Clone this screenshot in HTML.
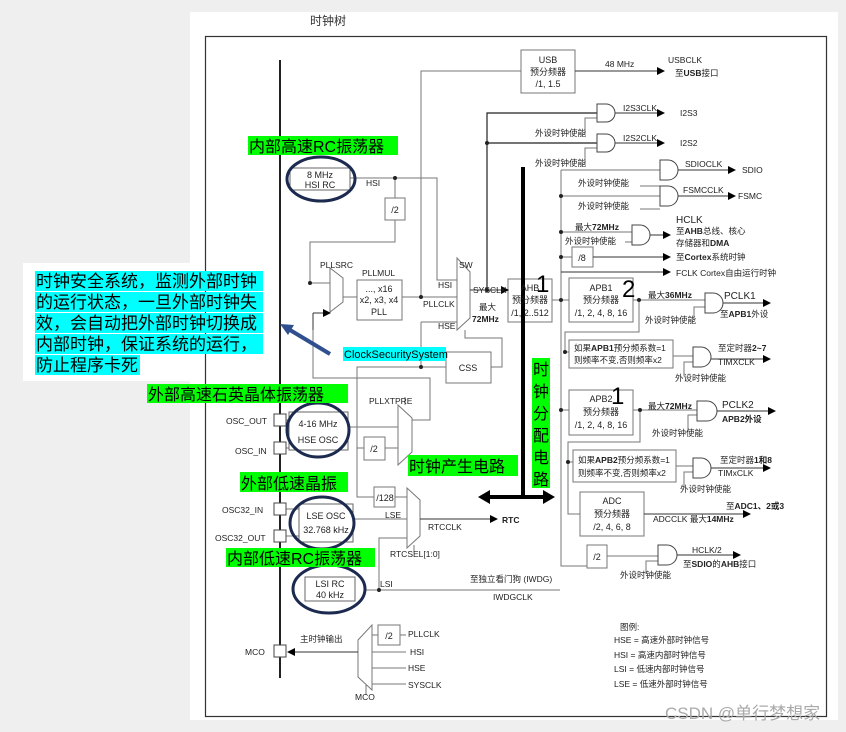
<!DOCTYPE html>
<html><head><meta charset="utf-8"><style>
html,body{margin:0;padding:0;background:#efefef;}
svg{display:block;}
text{font-family:"Liberation Sans","Noto Sans CJK SC",sans-serif;}
</style></head><body>
<svg width="846" height="732" viewBox="0 0 846 732" xmlns="http://www.w3.org/2000/svg">
<defs>
<marker id="a" markerWidth="8" markerHeight="8" refX="7" refY="4" orient="auto" markerUnits="userSpaceOnUse"><path d="M0,0 L8,4 L0,8z" fill="#000"/></marker>
</defs>
<rect x="190" y="12" width="648" height="708" fill="#fff"/>
<rect x="23" y="263" width="247" height="118" fill="#fff"/>
<text x="310" y="25" font-size="12" fill="#333">时钟树</text>
<rect x="205.5" y="36.5" width="621" height="680" fill="none" stroke="#333" stroke-width="1.2"/>
<line x1="280" y1="60" x2="280" y2="678" stroke="#222" stroke-width="2"/>

<g stroke="#777" stroke-width="1" fill="none">
<!-- HSI -->
<polyline points="350,178 437,178 437,280 457,280"/>
<polyline points="395,178 395,198"/>
<rect x="385" y="198" width="20" height="22" fill="#fff"/>
<polyline points="395,220 395,242 310,242 310,283 330,283"/>
<polygon points="330,268 343,278 343,302 330,312" fill="#fff"/>
<polyline points="343,297 357,297"/>
<rect x="357" y="280" width="45" height="40" fill="#fff"/>
<polyline points="402,297 457,297"/>
<polyline points="421,297 421,71 521,71"/>
<polygon points="457,258 470,272 470,318 457,330" fill="#fff"/>
<polyline points="421,322 457,322"/>
<polyline points="421,322 421,367"/>
<polyline points="357,427 357,367 446,367"/>
<polyline points="313,313 313,378 430,378 430,420 412,420"/>
<polyline points="465,330 465,338 502,338 502,367 491,367"/>
<rect x="446" y="352" width="45" height="31" fill="#fff"/>
<!-- HSE -->
<polyline points="348,427 398,427"/>
<polyline points="357,448 364,448"/><polyline points="385,448 398,448"/>
<rect x="364" y="437" width="21" height="23" fill="#fff"/>
<polygon points="398,405 412,418 412,452 398,465" fill="#fff"/>
<polyline points="405,405 405,397"/>
<polyline points="357,427 357,497 374,497"/>
<rect x="374" y="487" width="21" height="20" fill="#fff"/>
<polyline points="395,497 407,497"/>
<polyline points="353,519 407,519"/>
<polygon points="407,488 420,500 420,536 407,548" fill="#fff"/>
<polyline points="379,590 379,538 407,538"/>
<polyline points="414,545 414,552"/>
<polyline points="364,590 560,590"/>
<polyline points="286,420 289,420"/><polyline points="286,448 289,448"/>
<polyline points="286,509 299,509"/><polyline points="286,536 299,536"/>
<!-- MCO -->
<polygon points="358,640 372,625 372,690 358,677" fill="#fff"/>
<rect x="378" y="625" width="22" height="20" fill="#fff"/>
<polyline points="372,635 378,635"/><polyline points="400,635 406,635"/>
<polyline points="372,652 406,652"/><polyline points="372,668 406,668"/><polyline points="372,684 406,684"/>
<polyline points="366,685 366,695"/>
<!-- USB -->
<rect x="521" y="50" width="54" height="43" fill="#fff"/>
<!-- AHB / APB -->
<rect x="508" y="279" width="44" height="43" fill="#fff"/>
<polyline points="552,300 569,300"/>
<polyline points="561,170 561,566 587,566"/>
<rect x="569" y="278" width="64" height="44" fill="#fff"/>
<rect x="569" y="340" width="104" height="28" fill="#fff"/>
<polyline points="639,300 639,332 565,332 565,352 569,352"/>
<polyline points="673,356 693,356"/>
<rect x="569" y="390" width="64" height="45" fill="#fff"/>
<polyline points="561,410 569,410"/>
<polyline points="640,410 640,442 568,442 568,462 573,462"/>
<rect x="573" y="450" width="103" height="32" fill="#fff"/>
<polyline points="676,466 693,466"/>
<polyline points="568,462 568,514 580,514"/>
<rect x="580" y="492" width="64" height="44" fill="#fff"/>
<rect x="587" y="545" width="20" height="23" fill="#fff"/>
<polyline points="607,556 658,556"/>
<polyline points="561,232 632,232"/>
<polyline points="561,257 572,257"/>
<rect x="572" y="247" width="21" height="20" fill="#fff"/>
<polyline points="633,300 705,300"/>
<polyline points="633,410 697,410"/>
<polyline points="561,170 660,170"/><polyline points="561,196 660,196"/>
<!-- enable inputs -->
<polyline points="585,135 585,118 597,118"/><polyline points="585,165 585,148 597,148"/>
<polyline points="640,186 660,186"/><polyline points="640,209 660,209"/>
<polyline points="625,242 632,242"/>
<polyline points="694,320 694,307 705,307"/>
<polyline points="684,376 684,362 693,362"/>
<polyline points="688,432 688,415 697,415"/>
<polyline points="684,488 684,472 693,472"/>
<polyline points="646,574 646,561 658,561"/>
</g>
<g stroke="#222" stroke-width="1.2" fill="none">
<polyline points="487,290 487,113 597,113"/>
<polyline points="487,143 597,143"/>
</g>
<!-- arrows (black) -->
<g stroke="#333" stroke-width="1" fill="none" marker-end="url(#a)">
<line x1="575" y1="71" x2="664" y2="71"/>
<line x1="615" y1="113" x2="664" y2="113"/>
<line x1="615" y1="143" x2="664" y2="143"/>
<line x1="678" y1="170" x2="735" y2="170"/>
<line x1="678" y1="196" x2="735" y2="196"/>
<line x1="650" y1="235" x2="670" y2="235"/>
<line x1="593" y1="257" x2="670" y2="257"/>
<line x1="561" y1="272" x2="670" y2="272"/>
<line x1="723" y1="303" x2="770" y2="303"/>
<line x1="711" y1="359" x2="770" y2="359"/>
<line x1="717" y1="411" x2="775" y2="411"/>
<line x1="711" y1="468" x2="770" y2="468"/>
<line x1="644" y1="514" x2="750" y2="514"/>
<line x1="677" y1="555" x2="740" y2="555"/>
<line x1="470" y1="290" x2="508" y2="290"/>
<line x1="420" y1="519" x2="497" y2="519"/>
<line x1="358" y1="652" x2="288" y2="652"/>
<line x1="313" y1="330" x2="313" y2="313" marker-end="none"/>
<line x1="313" y1="313" x2="330" y2="313"/>
</g>
<!-- gates -->
<g fill="#fff" stroke="#444" stroke-width="1">
<path d="M597,104 h9 a9,9 0 0 1 0,18 h-9z"/>
<path d="M597,134 h9 a9,9 0 0 1 0,18 h-9z"/>
<path d="M660,160 h8 a10,10 0 0 1 0,20 h-8z"/>
<path d="M660,186 h8 a10,10 0 0 1 0,20 h-8z"/>
<path d="M632,225 h8 a10,10 0 0 1 0,20 h-8z"/>
<path d="M705,293 h8 a10,10 0 0 1 0,20 h-8z"/>
<path d="M693,347 h8 a10,10 0 0 1 0,20 h-8z"/>
<path d="M697,401 h10 a10,10 0 0 1 0,20 h-10z"/>
<path d="M693,458 h8 a10,10 0 0 1 0,20 h-8z"/>
<path d="M658,545 h9 a10,10 0 0 1 0,20 h-9z"/>
</g>
<!-- pins -->
<g fill="#fff" stroke="#444"><rect x="274" y="414" width="12" height="12"/><rect x="274" y="442" width="12" height="12"/><rect x="274" y="503" width="12" height="12"/><rect x="274" y="530" width="12" height="12"/><rect x="274" y="645" width="12" height="12"/></g>
<!-- dots -->
<g fill="#222"><circle cx="395" cy="178" r="2"/><circle cx="310" cy="283" r="2"/><circle cx="421" cy="297" r="2"/><circle cx="487" cy="290" r="2"/><circle cx="487" cy="143" r="2"/><circle cx="421" cy="367" r="2"/><circle cx="379" cy="590" r="2"/><circle cx="561" cy="196" r="2"/><circle cx="561" cy="232" r="2"/><circle cx="561" cy="257" r="2"/><circle cx="561" cy="300" r="2"/><circle cx="561" cy="410" r="2"/><circle cx="639" cy="300" r="2"/><circle cx="640" cy="410" r="2"/><circle cx="568" cy="462" r="2"/><circle cx="565" cy="352" r="2"/></g>
<!-- osc boxes -->
<g fill="#fff" stroke="#666"><rect x="290" y="168" width="60" height="22"/><rect x="289" y="412" width="59" height="38"/><rect x="299" y="504" width="54" height="38"/><rect x="305" y="577" width="50" height="24"/></g>
<g fill="none" stroke="#1b2a4e" stroke-width="3"><ellipse cx="321" cy="179" rx="34" ry="22"/><ellipse cx="318" cy="430" rx="31" ry="27"/><ellipse cx="322" cy="523" rx="32" ry="26"/><ellipse cx="329" cy="589" rx="36" ry="24"/></g>
<!-- thick black -->
<line x1="523" y1="167" x2="523" y2="497" stroke="#000" stroke-width="4"/>
<line x1="488" y1="497" x2="545" y2="497" stroke="#000" stroke-width="4"/>
<path d="M478,497 l12,-7 v14z M555,497 l-12,-7 v14z" fill="#000"/>
<!-- callout arrow -->
<line x1="330" y1="354" x2="290" y2="330" stroke="#2f4f8f" stroke-width="4"/>
<path d="M280,324 l14,1 -6,10z" fill="#2f4f8f"/>

<!-- text -->
<g font-size="9" fill="#222" text-anchor="middle">
<text x="320" y="178">8 MHz</text><text x="320" y="188">HSI RC</text>
<text x="395" y="213">/2</text>
<text x="379" y="292">..., x16</text><text x="379" y="303">x2, x3, x4</text><text x="379" y="315">PLL</text>
<text x="468" y="371">CSS</text>
<text x="318" y="427">4-16 MHz</text><text x="318" y="443">HSE OSC</text>
<text x="374" y="452">/2</text>
<text x="385" y="501">/128</text>
<text x="326" y="519">LSE OSC</text><text x="326" y="533">32.768 kHz</text>
<text x="330" y="587">LSI RC</text><text x="330" y="598">40 kHz</text>
<text x="389" y="639">/2</text>
<text x="548" y="63">USB</text><text x="548" y="75">预分频器</text><text x="548" y="87">/1, 1.5</text>
<text x="530" y="291">AHB</text><text x="530" y="303">预分频器</text><text x="530" y="316">/1, 2..512</text>
<text x="601" y="291">APB1</text><text x="601" y="303">预分频器</text><text x="601" y="316">/1, 2, 4, 8, 16</text>
<text x="601" y="402">APB2</text><text x="601" y="415">预分频器</text><text x="601" y="428">/1, 2, 4, 8, 16</text>
<text x="612" y="504">ADC</text><text x="612" y="517">预分频器</text><text x="612" y="530">/2, 4, 6, 8</text>
<text x="582" y="261">/8</text><text x="597" y="560">/2</text>
</g>
<g font-size="8.5" fill="#222">
<text x="574" y="351">如果<tspan font-weight="bold">APB1</tspan>预分频系数=1</text><text x="574" y="363">则频率不变,否则频率x2</text>
<text x="578" y="463">如果<tspan font-weight="bold">APB2</tspan>预分频系数=1</text><text x="578" y="476">则频率不变,否则频率x2</text>
<text x="366" y="186">HSI</text>
<text x="320" y="268">PLLSRC</text><text x="362" y="276">PLLMUL</text>
<text x="438" y="288">HSI</text><text x="423" y="307">PLLCLK</text><text x="438" y="329">HSE</text>
<text x="459" y="268">SW</text><text x="473" y="293">SYSCLK</text>
<text x="479" y="310">最大</text><text x="472" y="322" font-weight="bold">72MHz</text>
<text x="226" y="424">OSC_OUT</text><text x="235" y="454">OSC_IN</text>
<text x="222" y="513">OSC32_IN</text><text x="215" y="541">OSC32_OUT</text>
<text x="369" y="404">PLLXTPRE</text>
<text x="385" y="518">LSE</text><text x="428" y="530">RTCCLK</text><text x="502" y="523" font-weight="bold">RTC</text>
<text x="390" y="557">RTCSEL[1:0]</text>
<text x="380" y="587">LSI</text>
<text x="470" y="582">至独立看门狗 (IWDG)</text><text x="493" y="600">IWDGCLK</text>
<text x="300" y="642">主时钟输出</text><text x="245" y="655">MCO</text>
<text x="408" y="637">PLLCLK</text><text x="410" y="655">HSI</text><text x="408" y="671">HSE</text><text x="408" y="688">SYSCLK</text>
<text x="355" y="700">MCO</text>
<text x="605" y="67">48 MHz</text><text x="668" y="63">USBCLK</text><text x="675" y="76">至<tspan font-weight="bold">USB</tspan>接口</text>
<text x="623" y="111">I2S3CLK</text><text x="680" y="116">I2S3</text><text x="535" y="136">外设时钟使能</text>
<text x="623" y="141">I2S2CLK</text><text x="680" y="146">I2S2</text><text x="535" y="166">外设时钟使能</text>
<text x="685" y="167">SDIOCLK</text><text x="742" y="173">SDIO</text><text x="578" y="186">外设时钟使能</text>
<text x="683" y="193">FSMCCLK</text><text x="738" y="199">FSMC</text><text x="578" y="209">外设时钟使能</text>
<text x="575" y="230">最大<tspan font-weight="bold">72MHz</tspan></text><text x="565" y="244">外设时钟使能</text>
<text x="676" y="223" font-size="10">HCLK</text><text x="676" y="234">至<tspan font-weight="bold">AHB</tspan>总线、核心</text><text x="676" y="246">存储器和<tspan font-weight="bold">DMA</tspan></text>
<text x="676" y="260">至<tspan font-weight="bold">Cortex</tspan>系统时钟</text>
<text x="676" y="276">FCLK Cortex自由运行时钟</text>
<text x="648" y="298">最大<tspan font-weight="bold">36MHz</tspan></text><text x="724" y="299" font-size="10">PCLK1</text><text x="720" y="317">至<tspan font-weight="bold">APB1</tspan>外设</text><text x="645" y="323">外设时钟使能</text>
<text x="718" y="351">至定时器<tspan font-weight="bold">2~7</tspan></text><text x="718" y="365">TIMXCLK</text><text x="675" y="381">外设时钟使能</text>
<text x="648" y="409">最大<tspan font-weight="bold">72MHz</tspan></text><text x="722" y="408" font-size="10">PCLK2</text><text x="722" y="422" font-weight="bold">APB2外设</text><text x="652" y="436">外设时钟使能</text>
<text x="720" y="463">至定时器<tspan font-weight="bold">1和8</tspan></text><text x="718" y="476">TIMxCLK</text><text x="680" y="492">外设时钟使能</text>
<text x="726" y="509">至<tspan font-weight="bold">ADC1、2或3</tspan></text><text x="653" y="522">ADCCLK 最大<tspan font-weight="bold">14MHz</tspan></text>
<text x="692" y="553">HCLK/2</text><text x="683" y="567">至<tspan font-weight="bold">SDIO</tspan>的<tspan font-weight="bold">AHB</tspan>接口</text><text x="620" y="578">外设时钟使能</text>
<text x="620" y="630">图例:</text>
<text x="614" y="643">HSE = 高速外部时钟信号</text><text x="614" y="658">HSI = 高速内部时钟信号</text>
<text x="614" y="672">LSI = 低速内部时钟信号</text><text x="614" y="687">LSE = 低速外部时钟信号</text>
</g>
<g font-size="24" fill="#000"><text x="536" y="292">1</text><text x="622" y="297">2</text><text x="611" y="404">1</text></g>

<!-- green labels -->
<g fill="#00ff00"><rect x="248" y="136" width="150" height="19"/><rect x="147" y="384" width="201" height="19"/><rect x="408" y="455" width="110" height="21"/><rect x="240" y="472" width="108" height="20"/><rect x="226" y="548" width="149" height="19"/><rect x="532" y="358" width="18" height="130"/></g>
<g font-size="16" fill="#000">
<text x="249" y="152">内部高速RC振荡器</text>
<text x="148" y="400">外部高速石英晶体振荡器</text>
<text x="409" y="472">时钟产生电路</text>
<text x="241" y="489">外部低速晶振</text>
<text x="227" y="564">内部低速RC振荡器</text>
<text x="533" y="375">时</text><text x="533" y="397">钟</text><text x="533" y="419">分</text><text x="533" y="441">配</text><text x="533" y="463">电</text><text x="533" y="485">路</text>
</g>
<!-- callout -->
<g fill="#00ffff"><rect x="35" y="271" width="228" height="20"/><rect x="35" y="292" width="228" height="20"/><rect x="35" y="313" width="228" height="20"/><rect x="35" y="334" width="228" height="20"/><rect x="35" y="355" width="105" height="20"/><rect x="343" y="347" width="103" height="14"/></g>
<g font-size="17" fill="#000">
<text x="36" y="287">时钟安全系统，监测外部时钟</text>
<text x="36" y="308">的运行状态，一旦外部时钟失</text>
<text x="36" y="329">效，会自动把外部时钟切换成</text>
<text x="36" y="350">内部时钟，保证系统的运行，</text>
<text x="36" y="371">防止程序卡死</text>
</g>
<text x="344" y="358" font-size="11" fill="#000">ClockSecuritySystem</text>
<text x="665" y="719" font-size="17" fill="#aaa">CSDN @单行梦想家</text>
</svg>
</body></html>
